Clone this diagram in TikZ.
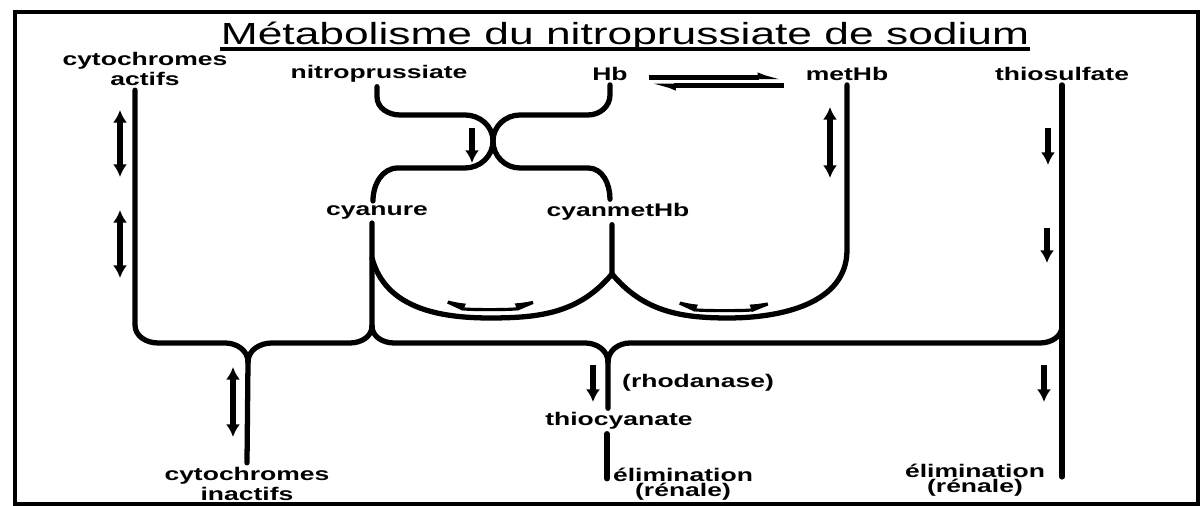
\documentclass[tikz,border=0pt]{standalone}
\usepackage{fontspec}
\setmainfont{Liberation Sans}[FakeStretch=1.45]
\usetikzlibrary{positioning, arrows.meta}

\begin{document}
\begin{tikzpicture}[
        x=0.1mm, y=-0.1mm,
        txt/.style={font=\fontsize{5.2}{4.3}\selectfont\bfseries, align=center, inner sep=1pt},
        link/.style={line width=1.5pt, line cap=round},
        arrow/.style={line width=1.6pt, -{Latex[length=3.6pt,width=4pt]}},
        dblarrow/.style={line width=1.6pt, {Latex[length=3.6pt,width=4pt]}-{Latex[length=3.6pt,width=4pt]}},
        turn/.style={line width=0.9pt, {Latex[right,length=8pt,width=3.5pt]}-{Latex[left,length=8pt,width=3.5pt]}},
        harp/.style={line width=1.3pt, -{Latex[left,length=5pt,width=3pt]}, shorten <=5pt, shorten >=5pt},
    ]
        \useasboundingbox (0,0) rectangle (1204,506);
        \draw[line width=1.3pt] (15,12) rectangle (1198,504);

        % Title
        \node[font=\fontsize{8.7}{10}\selectfont, inner sep=0pt, anchor=base] (title) at (625,45) {Métabolisme du nitroprussiate de sodium};
        \draw[line width=0.9pt] ([yshift=-0.4mm]title.base west) -- ([yshift=-0.4mm]title.base east);

        % Top row
        \node[txt] (cytact) at (145,69) {cytochromes\\actifs};
        \node[txt] (nitro) at (379,74) {nitroprussiate};
        \node[txt] (hb) at (610,74) {Hb};
        \node[txt] (methb) at (847,74) {metHb};
        \node[txt] (thio) at (1062,74) {thiosulfate};

        % Middle row
        \node[txt] (cyan) at (377,212) {cyanure};
        \node[txt] (cmhb) at (618,212) {cyanmetHb};

        % Bottom row
        \node[txt, anchor=west] (rhod) at (618,383) {(rhodanase)};
        \node[txt] (thiocy) at (619,421) {thiocyanate};
        \node[txt] (cytina) at (247,484) {cytochromes\\inactifs};
        \node[txt] (elim1) at (683,484) {élimination\\(rénale)};
        \node[txt] (elim2) at (975,480) {élimination\\(rénale)};

        % Junctions
        \coordinate (w) at (493,141);
        \coordinate (cu) at (372,258);
        \coordinate (cj) at (372,326);
        \coordinate (cm) at (612,274);
        \coordinate (tj) at (1062,326);
        \coordinate (cusp1) at (248,362);
        \coordinate (cusp2) at (608,362);

        % Hb equilibrium
        \draw[harp] ([yshift=-0.35mm]hb.east) -- ([yshift=-0.35mm]methb.west);
        \draw[harp] ([yshift=-1.15mm]methb.west) -- ([yshift=-1.15mm]hb.east);

        % Nitroprussiate + Hb
        \draw[link] ([xshift=-0.2mm]nitro.south) -- ++(0,10) to[out=-90,in=180] (400,115) -- (465,115)
            to[out=0,in=90] (w) to[out=-90,in=0] (465,168) -- (398,168) to[out=180,in=90] ([xshift=-0.4mm]cyan.north);
        \draw[link] (hb.south) -- ++(0,10) to[out=-90,in=0] (588,115) -- (520,115)
            to[out=180,in=90] (w) to[out=-90,in=180] (520,168) -- (588,168) to[out=0,in=90] ([xshift=-0.8mm]cmhb.north);

        % Cyanure and cyanmetHb cycles
        \draw[link] ([xshift=-0.5mm]cyan.south) -- (cj);
        \draw[link] ([xshift=-0.6mm]cmhb.south) -- (cm);
        \draw[link] (cu) to[out=-75,in=180] (490,318) to[out=0,in=-130] (cm);
        \draw[link] (cm) to[out=-50,in=180] (728,318) to[out=0,in=-90] (847,250) -- (methb.south);
        \draw[turn] (428,293) .. controls (465,310) and (515,310) .. (553,294);
        \draw[turn] (660,294) .. controls (697,311) and (750,311) .. (788,296);

        % Collecting line
        \draw[link] ([xshift=-1mm]cytact.south) -- (135,325) to[out=-90,in=180] (158,343) -- (225,343) to[out=0,in=90] (cusp1);
        \draw[link] (cj) to[out=-90,in=0] (350,343) -- (272,343) to[out=180,in=90] (cusp1);
        \draw[link] (cj) to[out=-90,in=180] (394,343) -- (585,343) to[out=0,in=90] (cusp2);
        \draw[link] (tj) to[out=-90,in=0] (1040,343) -- (630,343) to[out=180,in=90] (cusp2);
        \draw[link] (cusp1) -- (cytina.north);
        \draw[link] (cusp2) -- ([xshift=-1.1mm]thiocy.north);
        \draw[link] (thio.south) -- ++(0,392);
        \draw[link] ([xshift=-1.2mm]thiocy.south) -- ++(0,45);

        % Direction marks
        \draw[dblarrow] (120,110) -- (120,177);
        \draw[dblarrow] (120,210) -- (120,278);
        \draw[dblarrow] (233,367) -- (233,437);
        \draw[dblarrow] (830,107) -- (830,178);
        \draw[arrow] (472,128) -- (472,163);
        \draw[arrow] (593,365) -- (593,402);
        \draw[arrow] (1048,128) -- (1048,165);
        \draw[arrow] (1047,228) -- (1047,263);
        \draw[arrow] (1044,365) -- (1044,402);
    \end{tikzpicture}
\end{document}
